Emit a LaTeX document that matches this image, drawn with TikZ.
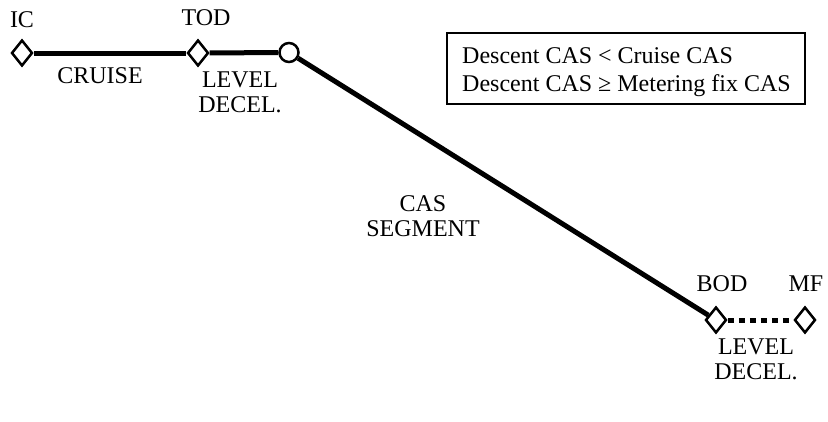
\documentclass[tikz,border=0pt]{standalone}
\usepackage{fontspec}
\setmainfont{Liberation Serif}
\usetikzlibrary{shapes.geometric}
\begin{document}
\begin{tikzpicture}[x=1pt,y=-1pt,
  fix/.style={diamond,draw,line width=2.5pt,fill=white,inner sep=0pt,minimum width=21pt,minimum height=26pt},
  knot/.style={circle,draw,line width=2.5pt,fill=white,inner sep=0pt,minimum size=19pt},
  seg/.style={line width=5pt},
  lbl/.style={font=\fontsize{24}{25}\selectfont,inner sep=0pt,align=center}]
\useasboundingbox (0,0) rectangle (828,421);
% waypoints
\node[fix] (ic) at (22,53) {};
\node[fix] (tod) at (198,53) {};
\node[knot] (lv) at (289,52.5) {};
\node[fix] (bod) at (716,320) {};
\node[fix] (mf) at (805,320) {};
% profile segments
\draw[seg] (ic) -- (tod);
\draw[seg] (tod) -- (lv);
\draw[seg] (lv) -- (bod);
\draw[seg,dash pattern=on 6pt off 5pt] (bod) -- (mf);
% labels
\node[lbl] (lic) at (22,20) {IC};
\node[lbl] (ltod) at (206,18) {TOD};
\node[lbl] (lcr) at (100,76) {CRUISE};
\node[lbl] (lld) at (240,92) {LEVEL\\DECEL.};
\node[lbl] (lcas) at (423,216) {CAS\\SEGMENT};
\node[lbl] (lbod) at (722,284) {BOD};
\node[lbl] (lmf) at (806,284) {MF};
\node[lbl] (lld2) at (756,359) {LEVEL\\DECEL.};
% condition box
\node[draw,line width=2pt,minimum width=358pt,minimum height=71pt,inner sep=0pt] (cond) at (626,68.5) {};
\node[lbl,font=\fontsize{24}{28}\selectfont,align=left,anchor=west] (ctext) at (462,72) {Descent CAS < Cruise CAS\\Descent CAS ≥ Metering fix CAS};
\end{tikzpicture}
\end{document}
